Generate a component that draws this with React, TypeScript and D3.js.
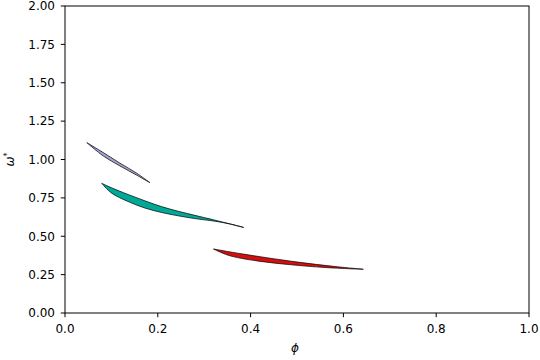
import { area, curveCatmullRom, scaleLinear } from "d3";

const width = 540;
const height = 360;
const margin = { left: 65, right: 11, top: 6, bottom: 47 };
const innerWidth = width - margin.left - margin.right;
const innerHeight = height - margin.top - margin.bottom;

const xTicks = [0, 0.2, 0.4, 0.6, 0.8, 1.0];
const yTicks = [0, 0.25, 0.5, 0.75, 1.0, 1.25, 1.5, 1.75, 2.0];

// purple band
const purplePhi = [0.047, 0.0825, 0.1185, 0.1545, 0.183];
const purpleUpper = [1.11, 1.045, 0.976, 0.911, 0.849];
const purpleLower = [1.11, 1.023, 0.958, 0.898, 0.849];

// teal band
const tealPhi = [0.079, 0.1, 0.136, 0.172, 0.208, 0.244, 0.28, 0.323, 0.355, 0.385];
const tealUpper = [0.845, 0.816, 0.772, 0.731, 0.693, 0.663, 0.636, 0.605, 0.581, 0.558];
const tealLower = [0.845, 0.782, 0.726, 0.684, 0.655, 0.633, 0.615, 0.598, 0.58, 0.557];

// red band
const redPhi = [0.32, 0.35, 0.38, 0.435, 0.506, 0.578, 0.643];
const redUpper = [0.417, 0.401, 0.386, 0.36, 0.33, 0.304, 0.285];
const redLower = [0.417, 0.378, 0.356, 0.331, 0.309, 0.293, 0.285];

const bands = [
  { phi: purplePhi, upper: purpleUpper, lower: purpleLower, color: "#a3a2d2" },
  { phi: tealPhi, upper: tealUpper, lower: tealLower, color: "#00a896" },
  { phi: redPhi, upper: redUpper, lower: redLower, color: "#d40f10" },
];

const font = "DejaVu Sans, sans-serif";

export default function App() {
  const x = scaleLinear().domain([0, 1]).range([0, innerWidth]);
  const y = scaleLinear().domain([0, 2]).range([innerHeight, 0]);

  const bandArea = area<{ p: number; u: number; l: number }>()
    .x((d) => x(d.p))
    .y0((d) => y(d.l))
    .y1((d) => y(d.u))
    .curve(curveCatmullRom.alpha(0.5));

  return (
    <svg
      width={width}
      height={height}
      style={{ position: "absolute", left: 0, top: 0 }}
    >
      <rect width={width} height={height} fill="white" />
      <g transform={`translate(${margin.left},${margin.top})`}>
        {bands.map((b, i) => {
          const pts = b.phi.map((p, j) => ({ p, u: b.upper[j], l: b.lower[j] }));
          return (
            <path
              key={i}
              d={bandArea(pts) ?? ""}
              fill={b.color}
              stroke="black"
              strokeWidth={0.7}
              strokeLinejoin="round"
            />
          );
        })}
        <rect
          width={innerWidth}
          height={innerHeight}
          fill="none"
          stroke="black"
          strokeWidth={1}
        />
        {xTicks.map((t) => (
          <g key={t} transform={`translate(${x(t)},${innerHeight})`}>
            <line y2={4.2} stroke="black" strokeWidth={1} />
            <text
              y={20}
              textAnchor="middle"
              fontFamily={font}
              fontSize={12}
              fill="black"
            >
              {t.toFixed(1)}
            </text>
          </g>
        ))}
        {yTicks.map((t) => (
          <g key={t} transform={`translate(0,${y(t)})`}>
            <line x2={-4.2} stroke="black" strokeWidth={1} />
            <text
              x={-10}
              dy="0.36em"
              textAnchor="end"
              fontFamily={font}
              fontSize={12}
              fill="black"
            >
              {t.toFixed(2)}
            </text>
          </g>
        ))}
        <text
          x={innerWidth / 2 - 2}
          y={innerHeight + 39}
          textAnchor="middle"
          fontFamily={font}
          fontStyle="italic"
          fontSize={12}
          fill="black"
        >
          ϕ
        </text>
        <text
          transform={`translate(-51,${innerHeight / 2}) rotate(-90)`}
          textAnchor="middle"
          fontFamily={font}
          fontSize={12}
          fill="black"
        >
          <tspan fontStyle="italic">ω</tspan>
          <tspan dy={-4} fontSize={8}>
            *
          </tspan>
        </text>
      </g>
    </svg>
  );
}
